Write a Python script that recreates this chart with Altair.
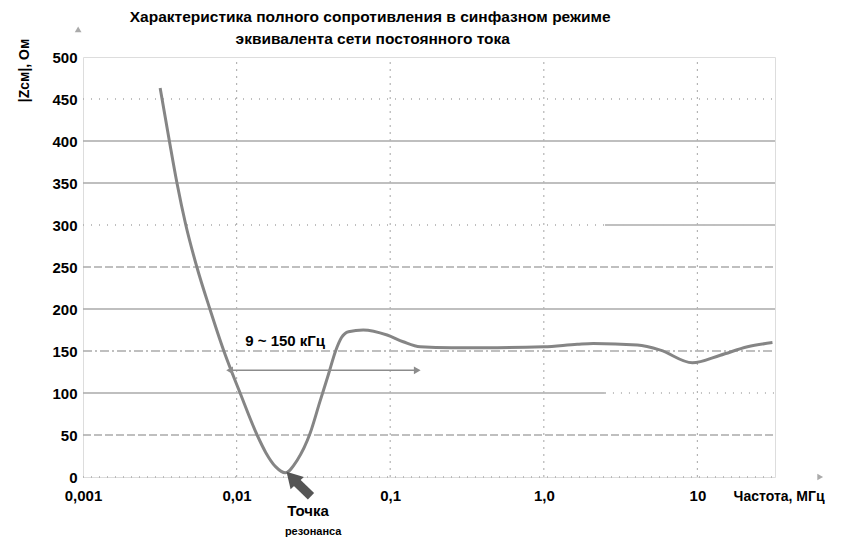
import altair as alt
import pandas as pd

# ---- data ----
freq_mhz = [0.00318, 0.00365, 0.00409, 0.00467, 0.00551, 0.0067, 0.00826, 0.01054,
            0.0136, 0.0155, 0.018, 0.0207, 0.0248, 0.0301, 0.0349, 0.0396,
            0.0441, 0.0482, 0.0535, 0.0667, 0.0955, 0.1215, 0.1567, 0.25, 0.5,
            1.0, 1.65, 2.1, 4.06, 5.74, 9.27, 14.1, 21.2, 30.8]
z_ohm = [463, 400, 350, 300, 250, 200, 150, 100,
         50, 29, 12, 5, 20, 52, 90, 122,
         150, 166, 173, 175, 169, 161, 155, 154, 154,
         155, 158, 159, 157, 151, 136, 145, 155, 160]

x_ticks = [0.001, 0.01, 0.1, 1, 10]
x_tick_labels = ["0,001", "0,01", "0,1", "1,0", "10"]
y_ticks = [0, 50, 100, 150, 200, 250, 300, 350, 400, 450, 500]

# grid segments: (y, x start, x end, style)
grid_y = [450, 400, 350, 300, 300, 250, 200, 150, 100, 100, 50, 0]
grid_x1 = [0.001, 0.001, 0.001, 0.001, 2.5, 0.001, 0.001, 0.001, 0.001, 2.5, 0.001, 0.001]
grid_x2 = [32, 32, 32, 2.5, 32, 32, 32, 32, 2.5, 32, 32, 32]
grid_style = ["dot", "solid", "solid", "dot", "solid", "dash", "solid", "dashdot",
              "solid", "dot", "dash", "dot"]
vgrid_x = [0.01, 0.1, 1, 10]

band_lo, band_hi, band_z = 0.009, 0.15, 127
band_label = "9 ~ 150 кГц"

title_lines = ["Характеристика полного сопротивления в синфазном режиме",
               "эквивалента сети постоянного тока"]
y_title = "|Zсм|, Ом"
x_title = "Частота, МГц"
res_lines = ["Точка", "резонанса"]

FONT = "Liberation Sans"
XDOM = [0.001, 32]
YDOM = [0, 500]

xs = alt.Scale(type="log", domain=XDOM, nice=False)
ys = alt.Scale(domain=YDOM, nice=False)

label_expr = " : ".join(
    [f"datum.value < {v * 3} ? '{l}'" for v, l in zip(x_ticks[:-1], x_tick_labels[:-1])]
) + f" : '{x_tick_labels[-1]}'"

curve_df = pd.DataFrame({"f": freq_mhz, "z": z_ohm})
grid_df = pd.DataFrame({"y": grid_y, "x1": grid_x1, "x2": grid_x2, "s": grid_style})
vgrid_df = pd.DataFrame({"x": vgrid_x, "y1": [0] * len(vgrid_x), "y2": [500] * len(vgrid_x)})

base_axes = alt.Chart(curve_df).mark_line(
    color="#858585", strokeWidth=3, interpolate="monotone"
).encode(
    x=alt.X("f:Q", scale=xs, title=None,
            axis=alt.Axis(values=x_ticks, labelExpr=label_expr, domain=False, ticks=False,
                          grid=False, labelFont=FONT, labelFontWeight="bold",
                          labelFontSize=15, labelColor="black", labelPadding=11,
                          labelFlush=False)),
    y=alt.Y("z:Q", scale=ys, title=None,
            axis=alt.Axis(values=y_ticks, domain=False, ticks=False, grid=False,
                          labelFont=FONT, labelFontWeight="bold", labelFontSize=15,
                          labelColor="black", labelPadding=6)),
)

hgrid = alt.Chart(grid_df).mark_rule(color="#ababab", strokeWidth=1.5).encode(
    x=alt.X("x1:Q", scale=xs),
    x2="x2:Q",
    y=alt.Y("y:Q", scale=ys),
    strokeDash=alt.StrokeDash("s:N", legend=None, scale=alt.Scale(
        domain=["solid", "dash", "dot", "dashdot"],
        range=[[1, 0], [8, 3], [1, 7], [9, 3, 2, 3]])),
)

vgrid = alt.Chart(vgrid_df).mark_rule(color="#b4b4b4", strokeWidth=1.2,
                                      strokeDash=[2, 5]).encode(
    x=alt.X("x:Q", scale=xs),
    y=alt.Y("y1:Q", scale=ys),
    y2="y2:Q",
)

# double arrow 9..150 kHz
band_df = pd.DataFrame({"f": [band_lo, band_hi], "z": [band_z, band_z]})
band_line = alt.Chart(band_df).mark_line(color="#8c8c8c", strokeWidth=1.6).encode(
    x=alt.X("f:Q", scale=xs), y=alt.Y("z:Q", scale=ys))
band_heads = alt.Chart(pd.DataFrame({"f": [band_lo, band_hi], "z": [band_z, band_z],
                                     "sh": ["triangle-left", "triangle-right"]})
                       ).mark_point(filled=True, color="#8c8c8c", size=60, opacity=1).encode(
    x=alt.X("f:Q", scale=xs), y=alt.Y("z:Q", scale=ys),
    shape=alt.Shape("sh:N", scale=None))
band_text = alt.Chart(pd.DataFrame({"f": [0.0207], "z": [162], "t": [band_label]})
                      ).mark_text(font=FONT, fontWeight="bold", fontSize=15,
                                  color="black").encode(
    x=alt.X("f:Q", scale=xs), y=alt.Y("z:Q", scale=ys), text="t:N")

# resonance arrow
res_shaft = alt.Chart(pd.DataFrame({"f": [0.0305, 0.0238], "z": [-23, -4]})
                      ).mark_line(color="#555555", strokeWidth=9, strokeCap="butt").encode(
    x=alt.X("f:Q", scale=xs), y=alt.Y("z:Q", scale=ys))
res_head = alt.Chart(pd.DataFrame({"f": [0.0229], "z": [-0.5]})
                     ).mark_point(shape="triangle-up", filled=True, color="#555555",
                                  size=330, angle=317, opacity=1).encode(
    x=alt.X("f:Q", scale=xs), y=alt.Y("z:Q", scale=ys))
res_text = alt.Chart(pd.DataFrame({"f": [0.0292, 0.0315], "z": [-41, -66],
                                   "t": res_lines, "fs": [15, 11]})
                     ).mark_text(font=FONT, fontWeight="bold", color="black").encode(
    x=alt.X("f:Q", scale=xs), y=alt.Y("z:Q", scale=ys), text="t:N",
    size=alt.Size("fs:Q", scale=None, legend=None))

# titles and axis decorations as text
title_text = alt.Chart(pd.DataFrame({"f": [0.0741, 0.077], "z": [548, 521],
                                     "t": title_lines})
                       ).mark_text(font=FONT, fontWeight="bold", fontSize=15.5,
                                   color="black").encode(
    x=alt.X("f:Q", scale=xs), y=alt.Y("z:Q", scale=ys), text="t:N")
ytitle_text = alt.Chart(pd.DataFrame({"f": [0.00042], "z": [484], "t": [y_title]})
                        ).mark_text(font=FONT, fontWeight="bold", fontSize=14, angle=270,
                                    color="black").encode(
    x=alt.X("f:Q", scale=xs), y=alt.Y("z:Q", scale=ys), text="t:N")
xtitle_text = alt.Chart(pd.DataFrame({"f": [34.0], "z": [-24], "t": [x_title]})
                        ).mark_text(font=FONT, fontWeight="bold", fontSize=14,
                                    color="black").encode(
    x=alt.X("f:Q", scale=xs), y=alt.Y("z:Q", scale=ys), text="t:N")
axis_arrows = alt.Chart(pd.DataFrame({"f": [0.00093, 63.0], "z": [533, 0],
                                      "sh": ["triangle-up", "triangle-right"]})
                        ).mark_point(filled=True, color="#aaaaaa", size=45, opacity=1).encode(
    x=alt.X("f:Q", scale=xs), y=alt.Y("z:Q", scale=ys),
    shape=alt.Shape("sh:N", scale=None))

chart = alt.layer(
    hgrid, vgrid, base_axes, band_line, band_heads, band_text,
    res_shaft, res_head, res_text, title_text, ytitle_text, xtitle_text, axis_arrows
).properties(
    width=692, height=420,
    autosize=alt.AutoSizeParams(type="none"),
    padding={"left": 75, "top": 49, "right": 58, "bottom": 60},
).configure_view(stroke=None).configure(background="white")

chart.save("out.html", embed_options={"renderer": "svg", "actions": False})
